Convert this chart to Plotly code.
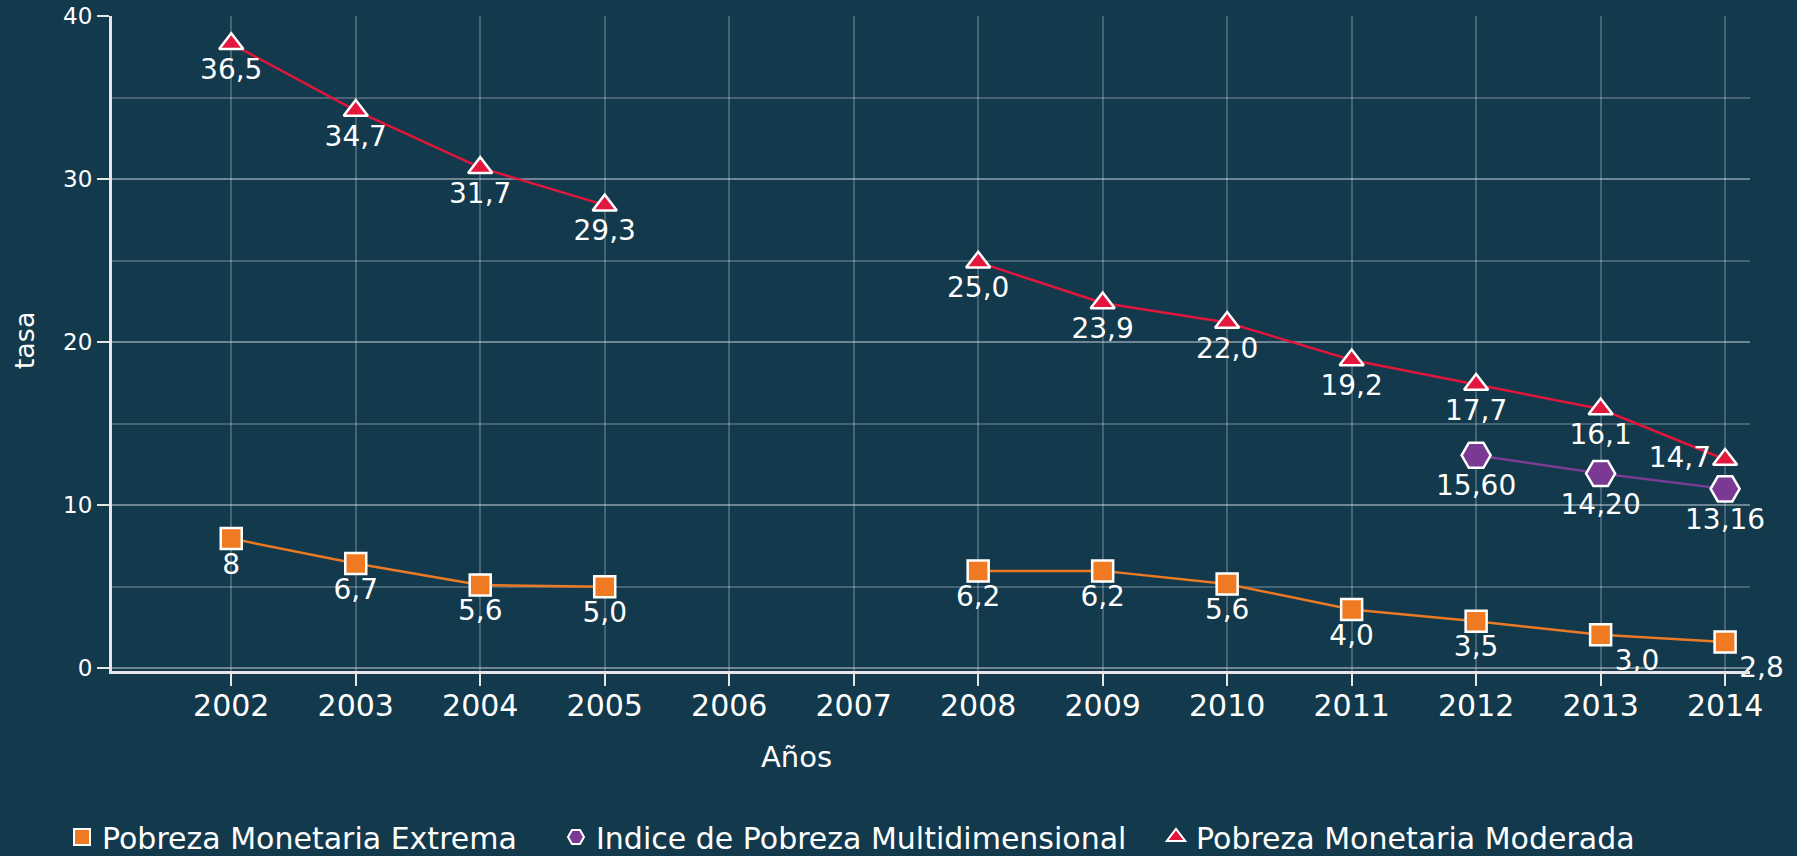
import plotly.graph_objects as go

# years on the x axis
years = list(range(2002, 2015))

# plotted positions (gaps for 2006-2007)
moderada = [38.3, 34.2, 30.7, 28.4, None, None, 24.9, 22.4, 21.2, 18.9, 17.4, 15.9, 12.8]
extrema = [7.95, 6.42, 5.1, 4.99, None, None, 5.97, 5.97, 5.17, 3.6, 2.88, 2.05, 1.61]
ipm_years = [2012, 2013, 2014]
ipm = [13.06, 11.94, 11.0]

# data labels as printed on the chart
moderada_labels = ["36,5", "34,7", "31,7", "29,3", "", "", "25,0", "23,9", "22,0", "19,2", "17,7", "16,1", "14,7"]
extrema_labels = ["8", "6,7", "5,6", "5,0", "", "", "6,2", "6,2", "5,6", "4,0", "3,5", "3,0", "2,8"]
ipm_labels = ["15,60", "14,20", "13,16"]

BG = "#12394c"
GRID = "rgba(255,255,255,0.22)"
FONT = "DejaVu Sans"
LABEL_FONT = dict(family=FONT, size=28, color="white")

series = [
    # name, x, y, labels, text positions, line colour, marker symbol, size, fill, legend id, legend x
    ("Pobreza Monetaria Extrema", years, extrema, extrema_labels,
     ["bottom center"] * 11 + ["bottom right", "bottom right"],
     "#ec7a24", "square", 21, "#ef7a22", "legend", 0.0345),
    ("Indice de Pobreza Multidimensional", ipm_years, ipm, ipm_labels,
     "bottom center", "#7b3c96", "hexagon2", 29, "#7a3a94", "legend2", 0.3094),
    ("Pobreza Monetaria Moderada", years, moderada, moderada_labels,
     ["bottom center"] * 12 + ["middle left"],
     "#e0173c", "triangle-up", 21, "#e3173e", "legend3", 0.6433),
]

fig = go.Figure()

for name, xs, ys, labels, pos, lcol, sym, size, fill, leg, lx in series:
    fig.add_trace(go.Scatter(
        x=xs, y=ys, name=name, showlegend=False,
        mode="lines+markers+text", text=labels, textposition=pos,
        textfont=LABEL_FONT, cliponaxis=False,
        line=dict(color=lcol, width=2.5),
        marker=dict(symbol=sym, size=size, color=fill, line=dict(color="white", width=2.5)),
        connectgaps=False,
    ))

# legend entries show only the marker, like the original; one legend box per entry
legends = {}
for name, xs, ys, labels, pos, lcol, sym, size, fill, leg, lx in series:
    fig.add_trace(go.Scatter(
        x=[None], y=[None], name=name, mode="markers", legend=leg,
        marker=dict(symbol=sym, size=size, color=fill, line=dict(color="white", width=2)),
    ))
    legends[leg] = dict(
        orientation="h", xref="container", yref="container",
        x=lx, xanchor="left", y=0.0526, yanchor="top",
        font=dict(family=FONT, size=30, color="white"),
        bgcolor="rgba(0,0,0,0)", itemwidth=30,
    )

fig.update_layout(
    width=1797, height=856,
    paper_bgcolor=BG, plot_bgcolor=BG,
    font=dict(family=FONT, color="white"),
    margin=dict(l=112, r=47, t=16, b=185, autoexpand=False),
    showlegend=True,
    xaxis=dict(
        range=[2001.042, 2014.2], tickvals=years, automargin=False,
        showgrid=True, gridcolor=GRID, gridwidth=1.5, zeroline=False,
        showline=True, linecolor="#e6e6e6", linewidth=3,
        ticks="outside", ticklen=12, tickwidth=2, tickcolor="#e6e6e6",
        tickfont=dict(family=FONT, size=30, color="white"),
        ticklabelstandoff=-6,
    ),
    yaxis=dict(
        range=[-0.17, 40], tickvals=[0, 10, 20, 30, 40], automargin=False,
        showgrid=True, gridcolor=GRID, gridwidth=1.5, zeroline=False,
        showline=True, linecolor="#e6e6e6", linewidth=3,
        ticks="outside", ticklen=12, tickwidth=2, tickcolor="#e6e6e6",
        tickfont=dict(family=FONT, size=23, color="white"),
        minor=dict(dtick=5, tick0=0, showgrid=True, gridcolor=GRID, gridwidth=1.5, ticks=""),
    ),
    annotations=[
        dict(text="Años", x=0.4176, y=-0.1318, xref="paper", yref="paper",
             xanchor="center", yanchor="middle",
             showarrow=False, font=dict(family=FONT, size=29, color="white")),
        dict(text="tasa", x=-0.0537, y=0.505, xref="paper", yref="paper",
             xanchor="center", yanchor="middle",
             showarrow=False, textangle=-90, font=dict(family=FONT, size=27, color="white")),
    ],
    **legends,
)

# drop the default page margin so the figure fills the window
fig.write_html("out.html", config={"displayModeBar": False},
               post_script="document.body.style.margin='0';")
